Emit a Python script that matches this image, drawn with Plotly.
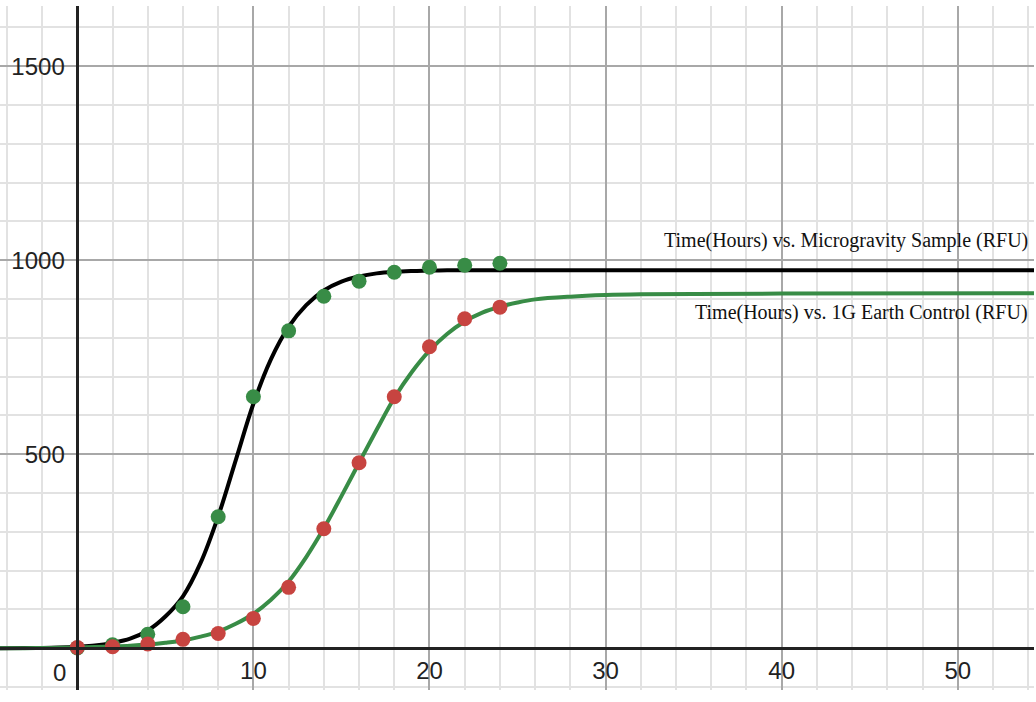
import plotly.graph_objects as go

# sampled hours
hours = [0, 2, 4, 6, 8, 10, 12, 14, 16, 18, 20, 22, 24]
micro_rfu = [1, 9, 36, 107, 339, 648, 818, 907, 946, 969, 982, 987, 992]
earth_rfu = [2, 4, 11, 23, 38, 77, 157, 308, 478, 648, 777, 849, 879]

# fitted curves
curve_hours = [-4.4, -3, -2, -1, 0, 1, 2, 3, 4, 5, 6, 7, 8, 9, 10, 11, 12, 13,
               14, 15, 16, 17, 18, 19, 20, 21, 22, 23, 24, 25, 26, 28, 30, 32,
               35, 40, 54.4]
micro_fit = [0.3, 0.6, 1, 2, 4, 7, 14, 25, 46, 82, 134, 220, 340, 485, 630, 745,
             828, 884, 922, 945, 958, 966, 970, 972, 973, 974, 974, 974, 974,
             974, 974, 974, 974, 974, 974, 974, 974]
earth_fit = [0.3, 0.4, 0.7, 1.3, 2, 3, 4.5, 6.5, 9.5, 14, 20, 30, 43, 63, 89,
             125, 172, 235, 309, 392, 478, 563, 645, 712, 767, 810, 842, 865,
             880, 891, 899, 906, 910, 912, 913, 914, 915]

x_ticks = [10, 20, 30, 40, 50]
y_ticks = [500, 1000, 1500]

x_range = [-4.39, 54.33]
y_range = [-107.5, 1655]

black = "#000000"
green = "#388c46"
red = "#c74440"

fig = go.Figure()
fig.add_trace(go.Scatter(x=curve_hours, y=micro_fit, mode="lines",
                         line=dict(color=black, width=4, shape="spline", smoothing=1)))
fig.add_trace(go.Scatter(x=curve_hours, y=earth_fit, mode="lines",
                         line=dict(color=green, width=4, shape="spline", smoothing=1)))
fig.add_trace(go.Scatter(x=hours, y=micro_rfu, mode="markers",
                         marker=dict(color=green, size=15)))
fig.add_trace(go.Scatter(x=hours, y=earth_rfu, mode="markers",
                         marker=dict(color=red, size=15)))

# where the axes cross (paper fractions)
x_axis_pos = (0 - y_range[0]) / (y_range[1] - y_range[0])
y_axis_pos = (0 - x_range[0]) / (x_range[1] - x_range[0])

tick_font = dict(family="Liberation Sans, Arial", size=24, color="#222")

fig.update_xaxes(
    range=x_range, tickvals=x_ticks, showgrid=True, gridcolor="#a8a8a8", gridwidth=1.5,
    minor=dict(dtick=2, tick0=0, showgrid=True, gridcolor="#e2e2e2", gridwidth=1.5),
    zeroline=False, showline=True, linecolor="#222", linewidth=2.5,
    anchor="free", position=x_axis_pos, ticks="", tickfont=tick_font,
    ticklabelstandoff=0, automargin=False,
)
fig.update_yaxes(
    range=y_range, tickvals=y_ticks, showgrid=True, gridcolor="#a8a8a8", gridwidth=1.5,
    minor=dict(dtick=100, tick0=0, showgrid=True, gridcolor="#e2e2e2", gridwidth=1.5),
    zeroline=False, showline=True, linecolor="#222", linewidth=2.5,
    anchor="free", position=y_axis_pos, ticks="", tickfont=tick_font,
    ticklabelstandoff=7, automargin=False,
)

fig.add_annotation(x=0, y=0, text="0", showarrow=False, xanchor="right",
                   yanchor="middle", xshift=-9, yshift=-24, font=tick_font)

label_font = dict(family="Liberation Serif, Times New Roman", size=20, color="#111")
fig.add_annotation(x=54.1, y=1052, text="Time(Hours) vs. Microgravity Sample (RFU)",
                   showarrow=False, xanchor="right", yanchor="middle", font=label_font)
fig.add_annotation(x=54.1, y=864, text="Time(Hours) vs. 1G Earth Control (RFU)",
                   showarrow=False, xanchor="right", yanchor="middle", font=label_font)

fig.update_layout(
    width=1036, height=702,
    margin=dict(l=0, r=2, t=6, b=12),
    paper_bgcolor="white", plot_bgcolor="white",
    showlegend=False,
)

# drop the page's default body margin so the figure sits at the window corner
fig.write_html("out.html", config={"displayModeBar": False},
               post_script="document.body.style.margin='0';")
